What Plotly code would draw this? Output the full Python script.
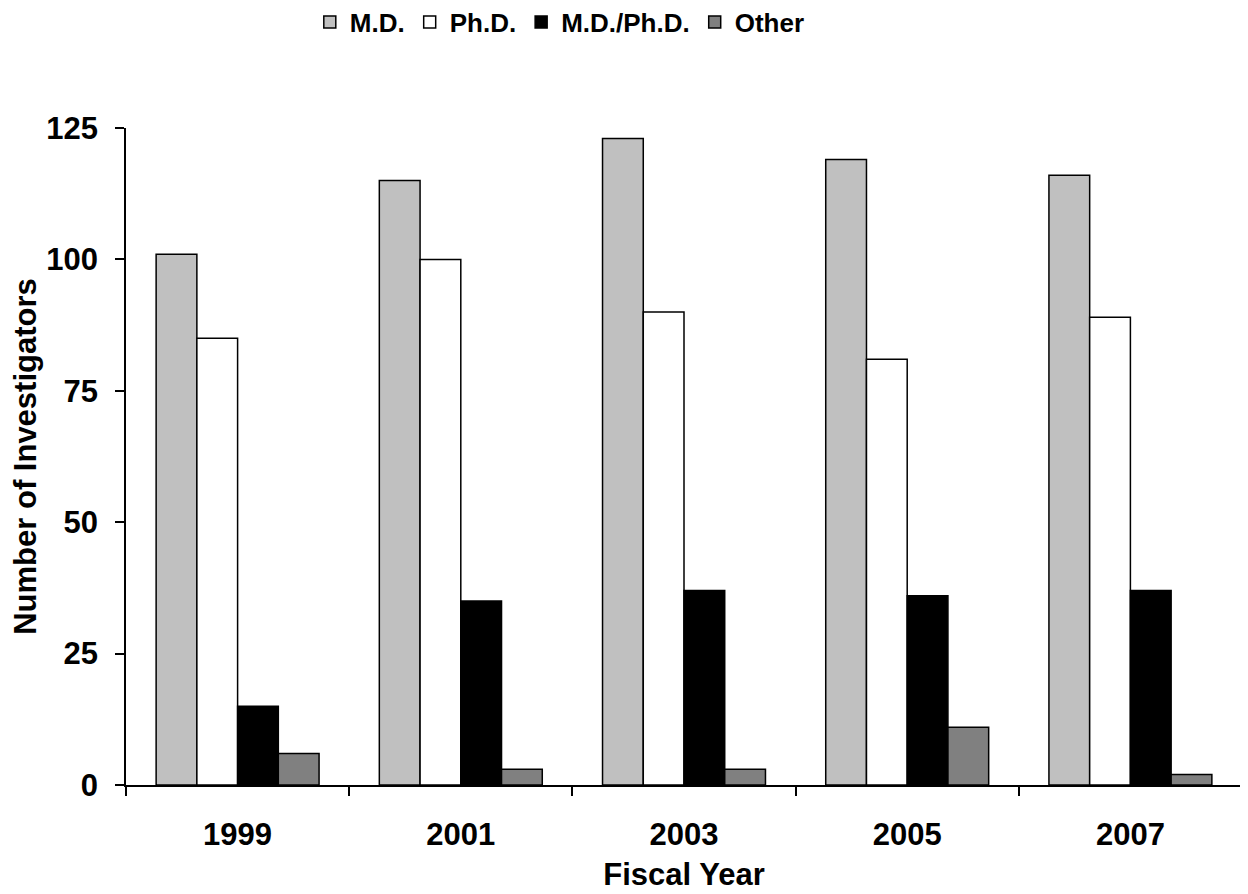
import plotly.graph_objects as go

years = ["1999", "2001", "2003", "2005", "2007"]
series_names = ["M.D.", "Ph.D.", "M.D./Ph.D.", "Other"]
md = [101, 115, 123, 119, 116]
phd = [85, 100, 90, 81, 89]
mdphd = [15, 35, 37, 36, 37]
other = [6, 3, 3, 11, 2]
colors = ["#c0c0c0", "#ffffff", "#000000", "#808080"]
y_ticks = [0, 25, 50, 75, 100, 125]

FONT = "Liberation Sans, Arial, sans-serif"
FS = 31
LFS = 26

fig = go.Figure()
for name, vals, col in zip(series_names, [md, phd, mdphd, other], colors):
    fig.add_trace(go.Bar(
        x=years, y=vals, name=name,
        marker=dict(color=col, line=dict(color="black", width=1.5)),
    ))

fig.update_layout(
    width=1240, height=886,
    paper_bgcolor="white", plot_bgcolor="white",
    barmode="group", bargap=0.27, bargroupgap=0,
    margin=dict(l=118, r=6, t=120, b=109, autoexpand=False),
    font=dict(family=FONT, size=FS, color="black", weight="bold"),
    legend=dict(
        orientation="h", x=0.445, xanchor="center", y=0.984, yanchor="middle",
        xref="container", yref="container",
        font=dict(family=FONT, size=LFS, weight="bold"),
        itemwidth=30, traceorder="normal", tracegroupgap=0,
    ),
    xaxis=dict(
        type="category", showline=True, linecolor="black", linewidth=1.5,
        ticks="outside", tickson="boundaries", ticklen=9, tickwidth=1.5, tickcolor="black",
        tickfont=dict(family=FONT, size=FS, weight="bold"), ticklabelstandoff=21,
        title=dict(text="Fiscal Year", font=dict(family=FONT, size=FS, weight="bold"), standoff=12),
        showgrid=False,
    ),
    yaxis=dict(
        range=[0, 125], tickvals=y_ticks, showline=True, linecolor="black", linewidth=1.5,
        ticks="outside", ticklen=9, tickwidth=1.5, tickcolor="black",
        tickfont=dict(family=FONT, size=FS, weight="bold"), ticklabelstandoff=11,
        title=dict(text="Number of Investigators", font=dict(family=FONT, size=FS, weight="bold"), standoff=0),
        showgrid=False, zeroline=False,
    ),
)

fig.write_html("out.html")
